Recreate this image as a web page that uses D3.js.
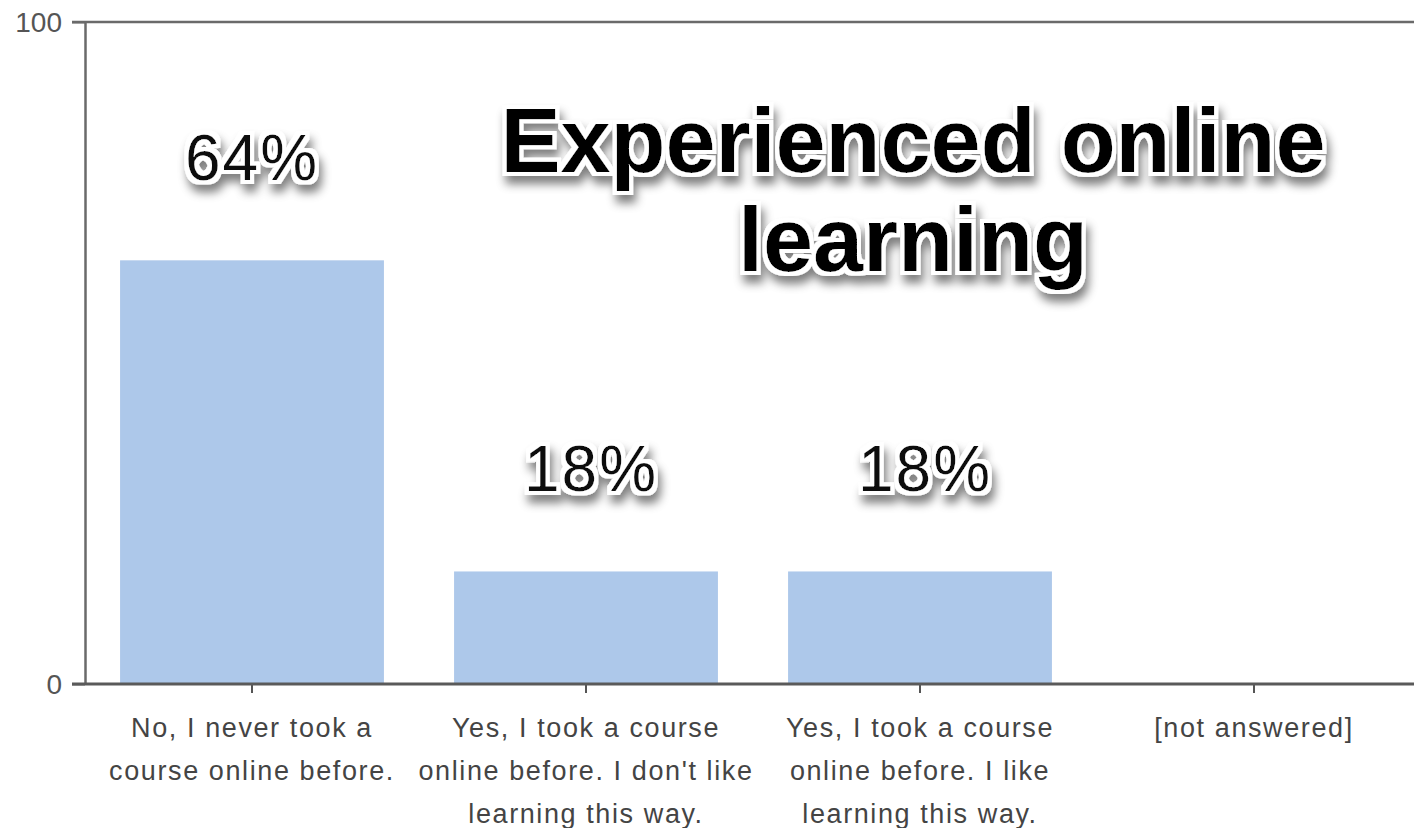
<!DOCTYPE html>
<html>
<head>
<meta charset="utf-8">
<script src="https://cdn.jsdelivr.net/npm/d3@7"></script>
<style>
  html, body { margin: 0; padding: 0; background: #fff; }
  svg { display: block; }
</style>
</head>
<body>
<svg id="chart" width="1414" height="828"></svg>
<script>
// chart data
const categories = [
  'No, I never took a\ncourse online before.',
  'Yes, I took a course\nonline before. I don\'t like\nlearning this way.',
  'Yes, I took a course\nonline before. I like\nlearning this way.',
  '[not answered]'
]
const values = [64, 17, 17, 0]
const valueLabels = ['64%', '18%', '18%', '']
const yTicks = [0, 100]
const titleLines = ['Experienced online', 'learning']

const width = 1414
const height = 828
const margin = { top: 22, left: 85, bottom: 144 }

const svg = d3.select('#chart')

// halo + drop shadow for the big overlay texts
const defs = svg.append('defs')
const f = defs.append('filter').attr('id', 'halo')
  .attr('x', '-20%').attr('y', '-30%').attr('width', '140%').attr('height', '170%')
f.append('feMorphology').attr('in', 'SourceAlpha').attr('operator', 'dilate').attr('radius', 4).attr('result', 'fat')
f.append('feGaussianBlur').attr('in', 'fat').attr('stdDeviation', 5).attr('result', 'blur')
f.append('feOffset').attr('in', 'blur').attr('dx', 3).attr('dy', 8).attr('result', 'off')
f.append('feFlood').attr('flood-color', '#000').attr('flood-opacity', 0.5).attr('result', 'dark')
f.append('feComposite').attr('in', 'dark').attr('in2', 'off').attr('operator', 'in').attr('result', 'shadow')
f.append('feFlood').attr('flood-color', '#fff').attr('result', 'white')
f.append('feComposite').attr('in', 'white').attr('in2', 'fat').attr('operator', 'in').attr('result', 'whiteHalo')
const merge = f.append('feMerge')
merge.append('feMergeNode').attr('in', 'shadow')
merge.append('feMergeNode').attr('in', 'whiteHalo')
merge.append('feMergeNode').attr('in', 'SourceGraphic')

const x = d3.scaleBand()
  .domain(categories)
  .range([margin.left, margin.left + 4 * 334])
  .paddingInner(0.21)
  .paddingOuter(0.105)

const y = d3.scaleLinear()
  .domain([0, 100])
  .range([height - margin.bottom, margin.top])

// bars
svg.append('g')
  .selectAll('rect')
  .data(values)
  .join('rect')
  .attr('x', (d, i) => x(categories[i]))
  .attr('y', d => y(d))
  .attr('width', x.bandwidth())
  .attr('height', d => y(0) - y(d))
  .attr('fill', '#adc8ea')

// top frame line
svg.append('line')
  .attr('x1', margin.left - 13).attr('x2', width)
  .attr('y1', y(100)).attr('y2', y(100))
  .attr('stroke', '#6a6a6a').attr('stroke-width', 2.5)

// y axis
const yAxis = svg.append('g')
  .attr('transform', `translate(${margin.left},0)`)
  .call(d3.axisLeft(y).tickValues(yTicks).tickSize(13).tickSizeOuter(0).tickPadding(10))
yAxis.select('.domain').attr('stroke', '#6a6a6a').attr('stroke-width', 2.5)
yAxis.selectAll('.tick line').attr('stroke', '#6a6a6a').attr('stroke-width', 2)
yAxis.selectAll('.tick text')
  .attr('font-family', 'Liberation Sans, Arial, sans-serif')
  .attr('font-size', 28)
  .attr('fill', '#555')
  .attr('dy', '0.35em')

// x axis
const xAxis = svg.append('g')
  .attr('transform', `translate(0,${y(0)})`)
  .call(d3.axisBottom(x).tickSize(9).tickSizeOuter(0).tickFormat(''))
xAxis.select('.domain').remove()
xAxis.selectAll('.tick line').attr('stroke', '#555').attr('stroke-width', 2)
svg.append('line')
  .attr('x1', margin.left - 13).attr('x2', width)
  .attr('y1', y(0)).attr('y2', y(0))
  .attr('stroke', '#5a5a5a').attr('stroke-width', 3)

// category labels, wrapped
const catText = svg.append('g')
  .selectAll('text')
  .data(categories)
  .join('text')
  .attr('x', d => x(d) + x.bandwidth() / 2)
  .attr('y', y(0) + 53)
  .attr('text-anchor', 'middle')
  .attr('font-family', 'Liberation Sans, Arial, sans-serif')
  .attr('font-size', 27)
  .attr('letter-spacing', 1.6)
  .attr('fill', '#444')
catText.selectAll('tspan')
  .data(d => d.split('\n'))
  .join('tspan')
  .attr('x', function() { return this.parentNode.getAttribute('x') })
  .attr('dy', (d, i) => i === 0 ? 0 : 43)
  .text(d => d)

// value labels above bars
svg.append('g')
  .attr('filter', 'url(#halo)')
  .selectAll('text')
  .data(values)
  .join('text')
  .attr('x', (d, i) => x(categories[i]) + x.bandwidth() / 2 + (i === 0 ? 0 : 5))
  .attr('y', d => y(d) - 80)
  .attr('text-anchor', 'middle')
  .attr('font-family', 'Liberation Sans, Arial, sans-serif')
  .attr('font-size', 64)
  .attr('letter-spacing', 2)
  .attr('fill', '#111')
  .text((d, i) => valueLabels[i])

// overlay title
svg.append('g')
  .attr('filter', 'url(#halo)')
  .selectAll('text')
  .data(titleLines)
  .join('text')
  .attr('x', 913)
  .attr('y', (d, i) => 172 + i * 99)
  .attr('text-anchor', 'middle')
  .attr('font-family', 'Liberation Sans, Arial, sans-serif')
  .attr('font-weight', 'bold')
  .attr('font-size', 90)
  .attr('fill', '#000')
  .text(d => d)
</script>
</body>
</html>
